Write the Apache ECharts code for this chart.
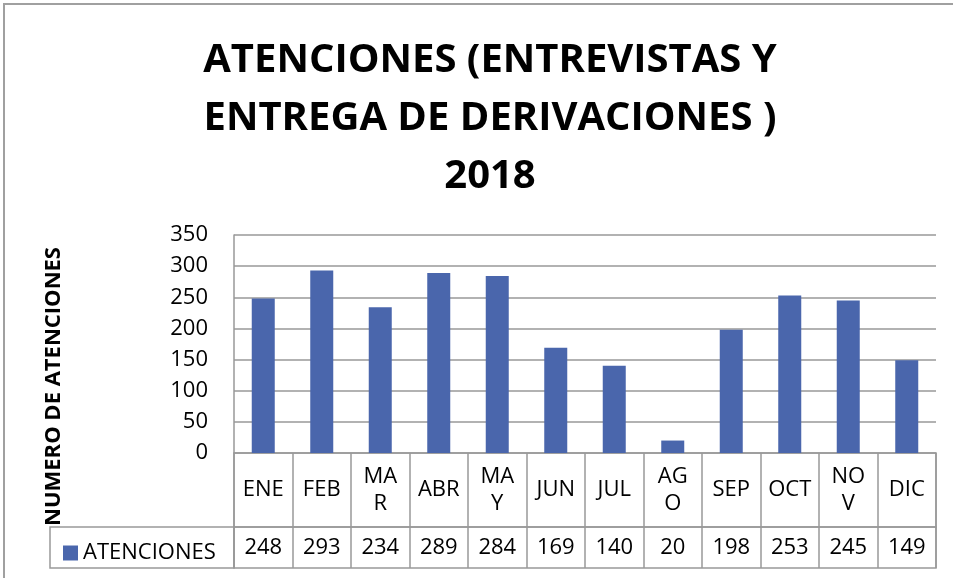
<!DOCTYPE html>
<html>
<head>
<meta charset="utf-8">
<script src="https://cdn.jsdelivr.net/npm/echarts@6/dist/echarts.min.js"></script>
<style>
  html, body { margin: 0; padding: 0; background: #fff; }
  #chart { width: 953px; height: 578px; position: relative; }
  #frame { position: absolute; left: 3px; top: 3px; right: 0; bottom: 0;
           border-top: 2px solid #a0a0a0; border-left: 2px solid #a0a0a0; pointer-events: none; }
</style>
</head>
<body>
<div id="chart"></div>
<div id="frame"></div>
<script>
const meses = ['ENE', 'FEB', 'MA\nR', 'ABR', 'MA\nY', 'JUN', 'JUL', 'AG\nO', 'SEP', 'OCT', 'NO\nV', 'DIC'];
const atenciones = [248, 293, 234, 289, 284, 169, 140, 20, 198, 253, 245, 149];
const serieNombre = 'ATENCIONES';

const lineColor = '#999999';
const barColor = '#4a66ac';
const font = '"Open Sans", "Noto Sans", sans-serif';

let chartDom = document.getElementById('chart');
let myChart = echarts.init(chartDom);
let option;

option = {
  animation: false,
  title: {
    text: 'ATENCIONES (ENTREVISTAS Y\nENTREGA DE DERIVACIONES )\n2018',
    left: 485,
    top: 27,
    textAlign: 'center',
    textStyle: {
      fontFamily: font,
      fontWeight: 'bold',
      fontSize: 40,
      lineHeight: 58,
      color: '#000',
    },
  },
  legend: {
    data: [serieNombre],
    left: 58,
    top: 537,
    icon: 'rect',
    itemWidth: 15,
    itemHeight: 15,
    itemGap: 0,
    textStyle: { fontFamily: font, fontSize: 22, color: '#000' },
  },
  grid: [
    // plot
    { left: 234, right: 17, top: 235, bottom: 125 },
    // fila de meses
    { left: 234, right: 17, top: 453, height: 74, show: true, borderColor: lineColor, borderWidth: 1.5 },
    // fila de valores
    { left: 234, right: 17, top: 527, height: 41, show: true, borderColor: lineColor, borderWidth: 1.5 },
    // celda de leyenda
    { left: 50, width: 184, top: 527, height: 41, show: true, borderColor: lineColor, borderWidth: 1.5 },
    // nombre del eje
    { left: 234, right: 17, top: 243, bottom: 48 },
  ],
  xAxis: [
    {
      gridIndex: 0,
      type: 'category',
      data: meses,
      axisLine: { show: false },
      axisTick: { show: false },
      axisLabel: { show: false },
    },
    {
      gridIndex: 1,
      type: 'category',
      data: meses,
      position: 'bottom',
      axisLine: { show: false },
      axisTick: { show: false },
      splitLine: { show: true, lineStyle: { color: lineColor, width: 1.5 } },
      axisLabel: {
        margin: -37,
        verticalAlign: 'middle',
        interval: 0,
        fontFamily: font,
        fontSize: 22,
        lineHeight: 27,
        color: '#000',
      },
    },
    {
      gridIndex: 2,
      type: 'category',
      data: meses,
      position: 'bottom',
      axisLine: { show: false },
      axisTick: { show: false },
      splitLine: { show: true, lineStyle: { color: lineColor, width: 1.5 } },
      axisLabel: {
        margin: -20,
        verticalAlign: 'middle',
        interval: 0,
        fontFamily: font,
        fontSize: 22,
        color: '#000',
        formatter: (value, index) => String(atenciones[index]),
      },
    },
    { gridIndex: 3, type: 'value', show: false },
    { gridIndex: 4, type: 'value', show: false },
  ],
  yAxis: [
    {
      gridIndex: 0,
      type: 'value',
      min: 0,
      max: 350,
      interval: 50,
      axisLine: { show: true, lineStyle: { color: lineColor, width: 1.5 } },
      axisTick: { show: false },
      splitLine: { lineStyle: { color: lineColor, width: 1.5 } },
      axisLabel: { margin: 26, fontFamily: font, fontSize: 22, color: '#000' },
    },
    { gridIndex: 1, type: 'value', show: false },
    { gridIndex: 2, type: 'value', show: false },
    { gridIndex: 3, type: 'value', show: false },
    {
      gridIndex: 4,
      type: 'value',
      axisLine: { show: false },
      axisTick: { show: false },
      axisLabel: { show: false },
      splitLine: { show: false },
      name: 'NUMERO DE ATENCIONES',
      nameLocation: 'middle',
      nameGap: 169,
      nameTextStyle: {
        fontFamily: font,
        fontWeight: 'bold',
        fontSize: 22,
        color: '#000',
      },
    },
  ],
  series: [
    {
      name: serieNombre,
      type: 'bar',
      xAxisIndex: 0,
      yAxisIndex: 0,
      data: atenciones,
      barWidth: 23,
      itemStyle: { color: barColor },
    },
  ],
};

option && myChart.setOption(option);
</script>
</body>
</html>
